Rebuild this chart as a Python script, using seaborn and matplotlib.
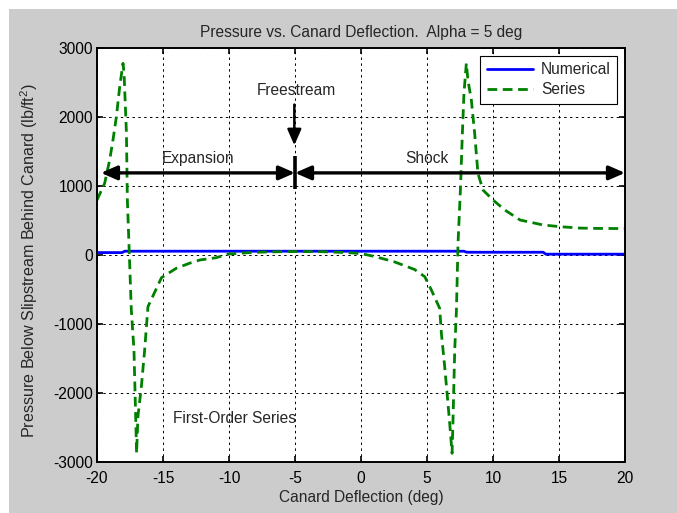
import numpy as np
import pandas as pd
import matplotlib
matplotlib.use("Agg")
import matplotlib.pyplot as plt
from matplotlib.patches import Rectangle
import seaborn as sns

# ---- data ----
series_x = [-20.0, -19.42, -19.04, -18.79, -18.53, -18.28, -18.03, -17.95, -17.77, -17.70,
            -17.58, -17.40, -17.20, -17.07, -17.00, -16.90, -16.64, -16.39, -16.14, -15.12,
            -15.0, -14.0, -13.0, -12.2, -11.0, -10.0, -8.0, -6.0, -5.0, -3.0, -1.0, 0.0,
            1.0, 2.5, 4.06, 4.83, 5.33, 5.96, 6.09, 6.34, 6.52, 6.72, 6.90, 6.97, 7.10,
            7.23, 7.35, 7.53, 7.68, 7.80, 7.98, 8.10, 8.36, 8.61, 8.86, 9.24, 10.0, 10.9,
            12.05, 13.8, 15.1, 16.6, 18.0, 20.0]
series_y = [797, 1039, 1377, 1667, 2005, 2440, 2778, 2633, 1763, 797,
            169, -797, -1377, -2343, -2874, -2343, -1908, -1377, -749, -330,
            -314, -193, -120, -72, -40, 15, 40, 48, 50, 48, 35, 20,
            -20, -97, -210, -314, -507, -773, -1135, -1618, -2004, -2440, -2874, -2391, -1377,
            -797, 169, 942, 1763, 2343, 2778, 2536, 2246, 1763, 1184, 942, 797, 652,
            507, 435, 410, 390, 385, 383]

numerical_x = [-20.0, -18.1, -17.9, 7.8, 8.0, 13.8, 14.0, 20.0]
numerical_y = [35, 35, 55, 55, 40, 40, 12, 12]

x_ticks = [-20, -15, -10, -5, 0, 5, 10, 15, 20]
y_ticks = [-3000, -2000, -1000, 0, 1000, 2000, 3000]

title = "Pressure vs. Canard Deflection.  Alpha = 5 deg"
xlabel = "Canard Deflection (deg)"
ylabel = "Pressure Below Slipstream Behind Canard (lb/ft$^2$)"

sns.set_theme(style="white")
plt.rcParams["font.family"] = ["Liberation Sans", "DejaVu Sans"]
plt.rcParams["mathtext.fontset"] = "custom"
plt.rcParams["mathtext.rm"] = "Liberation Sans"
plt.rcParams["mathtext.it"] = "Liberation Sans"
FS = 11.2

fig = plt.figure(figsize=(6.77, 5.13), dpi=100, facecolor="white")
fig.patches.append(Rectangle((9 / 677, 0), 1 - 9 / 677, 1 - 9 / 513,
                             transform=fig.transFigure, facecolor="#cccccc",
                             edgecolor="none", zorder=-10))
ax = fig.add_axes([97 / 677, 1 - 462 / 513, (625 - 97) / 677, (462 - 48) / 513])
ax.set_facecolor("white")

sns.lineplot(x=numerical_x, y=numerical_y, ax=ax, color="#0000ff", lw=2.0,
             estimator=None, sort=False, label="Numerical")
sns.lineplot(x=series_x, y=series_y, ax=ax, color="#008000", lw=2.0,
             estimator=None, sort=False, label="Series", linestyle="--")
ax.lines[1].set_dashes((3.5, 2.0))

ax.set_xlim(-20, 20)
ax.set_ylim(-3000, 3000)
ax.set_xticks(x_ticks)
ax.set_yticks(y_ticks)
ax.set_xticklabels([str(t) for t in x_ticks], fontsize=FS)
ax.set_yticklabels([str(t) for t in y_ticks], fontsize=FS)
ax.tick_params(direction="in", length=4, width=1.2, top=True, right=True,
               bottom=True, left=True, colors="black")
ax.tick_params(axis="x", pad=6.5)
ax.tick_params(axis="y", pad=3)
ax.grid(True, color="black", lw=0.7, linestyle=(0, (2.5, 3.5)))
for s in ax.spines.values():
    s.set_color("black")
    s.set_linewidth(1.4)
    s.set_visible(True)

ax.set_title(title, fontsize=FS, pad=8)
ax.set_xlabel(xlabel, fontsize=FS, labelpad=3)
ax.set_ylabel(ylabel, fontsize=11.6)
ax.yaxis.set_label_coords(-0.108, 0.486)

leg = ax.legend(loc="upper right", fontsize=FS, frameon=True, fancybox=False,
                framealpha=1, edgecolor="black", borderaxespad=0.5,
                handlelength=3.0, labelspacing=0.35, borderpad=0.4,
                handletextpad=0.5)
leg.get_frame().set_linewidth(0.8)

# annotations
arrow_kw = dict(arrowstyle="<|-|>,head_length=0.8,head_width=0.35", color="black",
                lw=2.4, shrinkA=0, shrinkB=0, mutation_scale=12)
ax.annotate("", xy=(-19.7, 1190), xytext=(-5.0, 1190), arrowprops=arrow_kw)
ax.annotate("", xy=(-5.0, 1190), xytext=(20.0, 1190), arrowprops=arrow_kw,
            annotation_clip=False)
ax.plot([-5, -5], [960, 1430], color="black", lw=2.6, solid_capstyle="butt")
ax.annotate("", xy=(-5.05, 1590), xytext=(-5.05, 2180),
            arrowprops=dict(arrowstyle="-|>,head_length=0.8,head_width=0.35",
                            color="black", lw=1.8, shrinkA=0, shrinkB=0,
                            mutation_scale=12))
ax.text(-4.87, 2391, "Freestream", ha="center", va="center", fontsize=FS)
ax.text(-12.33, 1401, "Expansion", ha="center", va="center", fontsize=FS)
ax.text(5.0, 1401, "Shock", ha="center", va="center", fontsize=FS)
ax.text(-9.6, -2367, "First-Order Series", ha="center", va="center", fontsize=FS)

fig.savefig("out.png", dpi=100, facecolor=fig.get_facecolor())
